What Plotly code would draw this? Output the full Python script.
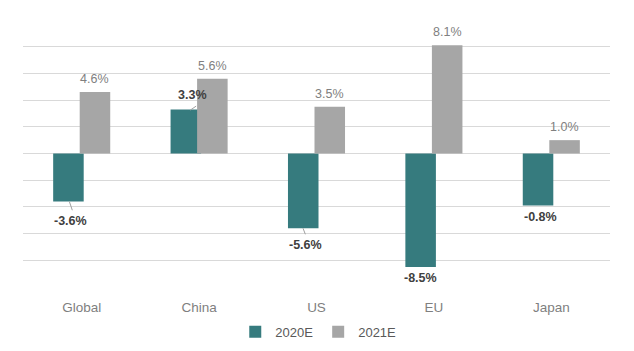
import plotly.graph_objects as go

categories = ["Global", "China", "US", "EU", "Japan"]
series_2020 = [-3.6, 3.3, -5.6, -8.5, -3.9]
labels_2020 = ["-3.6%", "3.3%", "-5.6%", "-8.5%", "-0.8%"]
series_2021 = [4.6, 5.6, 3.5, 8.1, 1.0]
labels_2021 = ["4.6%", "5.6%", "3.5%", "8.1%", "1.0%"]

TEAL = "#367b7e"
GRAY = "#a6a6a6"
FONT = "Liberation Sans, Arial, Helvetica, sans-serif"

fig = go.Figure()
fig.add_trace(go.Bar(x=categories, y=series_2020, name="2020E", marker_color=TEAL,
                     width=0.26, offset=-0.243, marker_line_width=0))
fig.add_trace(go.Bar(x=categories, y=series_2021, name="2021E", marker_color=GRAY,
                     width=0.26, offset=-0.017, marker_line_width=0))

# label placement (category-unit x offset, pixel y shift) for 2020E labels
shift_2020 = [(-0.095, -19), (-0.06, 14), (-0.095, -17), (-0.115, -11), (-0.09, -11)]
for i, (v, t) in enumerate(zip(series_2020, labels_2020)):
    dx, dy = shift_2020[i]
    fig.add_annotation(x=i + dx, y=v, text="<b>" + t + "</b>", showarrow=False, yshift=dy,
                       font=dict(family=FONT, size=12.5, color="#404040"),
                       xref="x", yref="y")

for i, (v, t) in enumerate(zip(series_2021, labels_2021)):
    fig.add_annotation(x=i + 0.113, y=v, text=t, showarrow=False, yshift=13,
                       font=dict(family=FONT, size=12.5, color="#808080"),
                       xref="x", yref="y")

# small leader lines for a few 2020E labels
fig.add_shape(type="line", x0=-0.105, x1=-0.08, y0=series_2020[0], y1=series_2020[0] - 0.65,
              line=dict(color="#a0a0a0", width=1), xref="x", yref="y")
fig.add_shape(type="line", x0=0.925, x1=0.975, y0=series_2020[1] - 0.05, y1=series_2020[1] + 0.25,
              line=dict(color="#a0a0a0", width=1), xref="x", yref="y")
fig.add_shape(type="line", x0=2 - 0.115, x1=2 - 0.095, y0=series_2020[2], y1=series_2020[2] - 0.45,
              line=dict(color="#a0a0a0", width=1), xref="x", yref="y")

fig.update_layout(
    width=634, height=351,
    margin=dict(l=23, r=24, t=20, b=64, autoexpand=False),
    paper_bgcolor="white", plot_bgcolor="white",
    barmode="overlay",
    font=dict(family=FONT, color="#7f7f7f"),
    showlegend=True,
    legend=dict(orientation="h", x=0.503, xanchor="center", y=-0.168, yanchor="middle",
                font=dict(family=FONT, size=13, color="#595959"),
                itemwidth=30, traceorder="normal"),
)
fig.update_xaxes(type="category", range=[-0.5, 4.5], showgrid=False, zeroline=False,
                 showline=False, ticks="", tickfont=dict(family=FONT, size=13.5, color="#7f7f7f"),
                 ticklabelstandoff=10)
fig.update_yaxes(range=[-10, 10], dtick=2, tick0=0, showgrid=True, gridcolor="#d9d9d9",
                 gridwidth=1, zeroline=True, zerolinecolor="#d9d9d9", zerolinewidth=1,
                 showticklabels=False, showline=False, ticks="")

fig.write_html("out.html")
